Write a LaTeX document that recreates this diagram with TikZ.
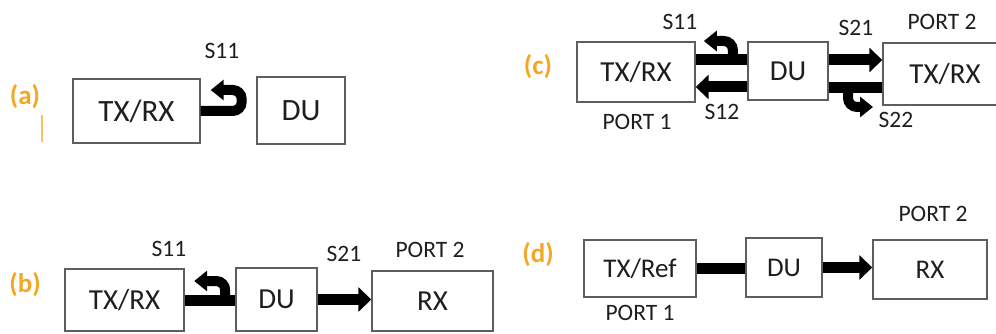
\documentclass[tikz,border=0pt]{standalone}
\usepackage{fontspec}
\setmainfont{Carlito}
\usetikzlibrary{arrows.meta}
\definecolor{lblorange}{HTML}{F5A623}
\definecolor{boxline}{HTML}{5E5E5E}
\definecolor{txt}{HTML}{1E1E1E}
\tikzset{
  blk/.style={draw=boxline, line width=1.4pt, fill=white, inner sep=0pt, text=txt},
  bar/.style={line width=11pt, black},
  arr/.style={line width=11pt, black, -{Triangle[width=24pt,length=13pt]}},
  hook/.style={line width=10pt, black, rounded corners=9pt, -{Triangle[width=20pt,length=13pt]}},
  plabel/.style={text=lblorange, font=\fontsize{27}{27}\selectfont\bfseries},
  slabel/.style={text=txt, font=\fontsize{23.5}{24}\selectfont},
}
\begin{document}
\begin{tikzpicture}[x=1pt,y=-1pt]
\useasboundingbox (0,0) rectangle (996,334);
% ---------- (a)
\node[plabel] (la) at (25,97) {(a)};
\draw[lblorange!70, line width=2pt] (42,115) -- (42,142);
\node[blk, minimum width=127pt, minimum height=64pt, font=\fontsize{31}{31}\selectfont] (TXa) at (136.5,111) {TX/RX};
\node[blk, minimum width=88pt, minimum height=67pt, font=\fontsize{31}{31}\selectfont] (DUa) at (301,110.5) {DU};
\node[slabel] (Sa11) at (222,51) {S11};
\draw[hook] (TXa.east) -- ++(41,0) -- ++(0,-21) -- ++(-31,0);
% ---------- (b)
\node[plabel] (lb) at (25,285) {(b)};
\node[blk, minimum width=119pt, minimum height=62pt, font=\fontsize{29}{29}\selectfont] (TXb) at (124.5,300) {TX/RX};
\node[blk, minimum width=81pt, minimum height=63pt, font=\fontsize{29}{29}\selectfont] (DUb) at (276.5,299.5) {DU};
\node[blk, minimum width=121pt, minimum height=60pt, font=\fontsize{29}{29}\selectfont] (RXb) at (432.5,301) {RX};
\draw[bar] (TXb.east) -- (TXb.east -| DUb.west) coordinate[pos=0.8] (hb);
\draw[hook] (hb) -- ++(0,-19) -- ++(-31,0);
\draw[arr] (DUb.east) -- (DUb.east -| RXb.west);
\node[slabel] (Sb11) at (169,249) {S11};
\node[slabel] (Sb21) at (344,254) {S21};
\node[slabel] (Pb2) at (430,250) {PORT 2};
% ---------- (c)
\node[plabel] (lc) at (538,67) {(c)};
\node[blk, minimum width=118pt, minimum height=60pt, font=\fontsize{29}{29}\selectfont] (TXc1) at (636,72) {TX/RX};
\node[blk, minimum width=80pt, minimum height=58pt, font=\fontsize{29}{29}\selectfont] (DUc) at (788,71) {DU};
\node[blk, minimum width=124pt, minimum height=62pt, font=\fontsize{29}{29}\selectfont] (TXc2) at (945,74) {TX/RX};
\coordinate (cul) at ([yshift=11pt]DUc.west);
\coordinate (cll) at ([yshift=-16pt]DUc.west);
\coordinate (cur) at ([yshift=11pt]DUc.east);
\coordinate (clr) at ([yshift=-17pt]DUc.east);
\draw[bar] (TXc1.east |- cul) -- (cul) coordinate[pos=0.72] (hc1);
\draw[hook] (hc1) -- ++(0,-19) -- ++(-29,0);
\draw[arr] (cll) -- (TXc1.east |- cll);
\draw[arr] (cur) -- (TXc2.west |- cur);
\draw[bar] (TXc2.west |- clr) -- (clr) coordinate[pos=0.64] (hc2);
\draw[hook] (hc2) -- ++(0,19) -- ++(25,0);
\node[slabel] (Sc11) at (680,22) {S11};
\node[slabel] (Sc21) at (856,28) {S21};
\node[slabel] (Pc2) at (942,22) {PORT 2};
\node[slabel] (Sc12) at (722,112) {S12};
\node[slabel] (Sc22) at (896,120) {S22};
\node[slabel] (Pc1) at (637,122) {PORT 1};
% ---------- (d)
\node[plabel] (ld) at (538,255) {(d)};
\node[blk, minimum width=112pt, minimum height=57pt, font=\fontsize{27}{27}\selectfont] (TXd) at (640,268.5) {TX/Ref};
\node[blk, minimum width=76pt, minimum height=59pt, font=\fontsize{27}{27}\selectfont] (DUd) at (784,267.5) {DU};
\node[blk, minimum width=114pt, minimum height=59pt, font=\fontsize{27}{27}\selectfont] (RXd) at (930,269.5) {RX};
\draw[bar] (TXd.east) -- (TXd.east -| DUd.west);
\draw[arr] (DUd.east) -- (DUd.east -| RXd.west);
\node[slabel] (Pd1) at (640,313) {PORT 1};
\node[slabel] (Pd2) at (933,214) {PORT 2};
\end{tikzpicture}
\end{document}
